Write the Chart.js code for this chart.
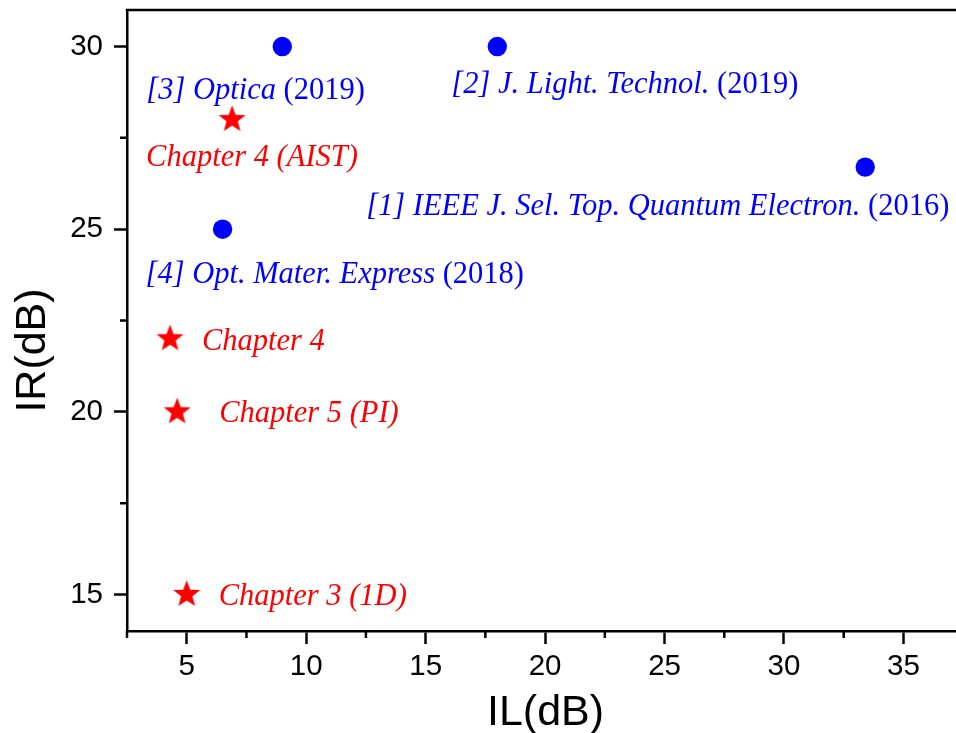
<!DOCTYPE html>
<html>
<head>
<meta charset="utf-8">
<script src="https://cdn.jsdelivr.net/npm/chart.js@4/dist/chart.umd.min.js"></script>
<style>
  html, body { margin: 0; padding: 0; background: #fff; overflow: hidden; }
  canvas { display: block; }
</style>
</head>
<body>
<canvas id="c" width="956" height="733"></canvas>
<script>
// Published devices (blue dots): insertion loss vs. isolation ratio
const refIL = [33.4, 18, 9, 6.5];
const refIR = [26.7, 30, 30, 25];
const refName = ['[1] IEEE J. Sel. Top. Quantum Electron.', '[2] J. Light. Technol.', '[3] Optica', '[4] Opt. Mater. Express'];
const refYear = ['(2016)', '(2019)', '(2019)', '(2018)'];

// Devices from this thesis (red stars)
const chapIL = [6.9, 4.3, 4.6, 5];
const chapIR = [28, 22, 20, 15];
const chapName = ['Chapter 4 (AIST)', 'Chapter 4', 'Chapter 5 (PI)', 'Chapter 3 (1D)'];

// Axis ticks
const ilTicks = [5, 10, 15, 20, 25, 30, 35];
const ilMinor = [2.5, 7.5, 12.5, 17.5, 22.5, 27.5, 32.5];
const irTicks = [15, 20, 25, 30];
const irMinor = [17.5, 22.5, 27.5];

// Label placement: pixel offset of the text start / baseline from its marker
const refLabelOffset = [[-499, 48], [-46, 46], [-136, 52], [-77, 54]];
const chapLabelOffset = [[-86, 46], [32, 11], [42, 10], [32, 11]];

const BLUE = '#0000ff';
const RED = '#ff0000';
const SANS = '"Liberation Sans", Arial, sans-serif';
const SERIF = '"Liberation Serif", "Times New Roman", serif';

function starImage(R, r, color) {
  const s = Math.ceil(2 * R + 2);
  const c = document.createElement('canvas');
  c.width = c.height = s;
  const g = c.getContext('2d');
  g.fillStyle = color;
  g.beginPath();
  for (let i = 0; i < 10; i++) {
    const a = -Math.PI / 2 + i * Math.PI / 5;
    const rad = i % 2 ? r : R;
    g.lineTo(s / 2 + rad * Math.cos(a), s / 2 + rad * Math.sin(a));
  }
  g.closePath();
  g.fill();
  return c;
}

// no extra room for half-labels at the axis ends
function noEndPadding(s) {
  s.paddingTop = 0;
  s.paddingBottom = 0;
  s.paddingLeft = 0;
  s.paddingRight = 0;
}

const decor = {
  id: 'decor',
  afterDraw(chart) {
    const { ctx, chartArea: a, scales: { x, y } } = chart;
    ctx.save();
    // top frame line
    ctx.strokeStyle = '#000';
    ctx.lineWidth = 2.5;
    ctx.beginPath();
    ctx.moveTo(a.left - 1.25, a.top);
    ctx.lineTo(a.right + 2, a.top);
    ctx.stroke();
    // minor ticks
    ctx.beginPath();
    ilMinor.forEach(v => {
      const px = x.getPixelForValue(v);
      ctx.moveTo(px, a.bottom);
      ctx.lineTo(px, a.bottom + 7);
    });
    irMinor.forEach(v => {
      const py = y.getPixelForValue(v);
      ctx.moveTo(a.left, py);
      ctx.lineTo(a.left - 7, py);
    });
    ctx.stroke();

    // axis titles
    ctx.fillStyle = '#000';
    ctx.font = '43px ' + SANS;
    ctx.textAlign = 'center';
    ctx.textBaseline = 'alphabetic';
    ctx.fillText('IL(dB)', (a.left + a.right) / 2 + 4, 725);
    ctx.save();
    ctx.translate(45, (a.top + a.bottom) / 2 + 30);
    ctx.rotate(-Math.PI / 2);
    ctx.fillText('IR(dB)', 0, 0);
    ctx.restore();

    // point labels
    ctx.textAlign = 'left';
    const italic = 'italic 30.5px ' + SERIF;
    const upright = '30.5px ' + SERIF;
    refName.forEach((name, i) => {
      const px = x.getPixelForValue(refIL[i]) + refLabelOffset[i][0];
      const py = y.getPixelForValue(refIR[i]) + refLabelOffset[i][1];
      ctx.fillStyle = BLUE;
      ctx.font = italic;
      ctx.fillText(name + ' ', px, py);
      const w = ctx.measureText(name + ' ').width;
      ctx.font = upright;
      ctx.fillText(refYear[i], px + w, py);
    });
    chapName.forEach((name, i) => {
      const px = x.getPixelForValue(chapIL[i]) + chapLabelOffset[i][0];
      const py = y.getPixelForValue(chapIR[i]) + chapLabelOffset[i][1];
      ctx.fillStyle = RED;
      ctx.font = italic;
      ctx.fillText(name, px, py);
    });
    ctx.restore();
  }
};

const tickFont = { family: SANS, size: 29.5 };

new Chart(document.getElementById('c'), {
  type: 'scatter',
  data: {
    datasets: [
      {
        label: 'Reported',
        data: refIL.map((v, i) => ({ x: v, y: refIR[i] })),
        backgroundColor: BLUE,
        borderWidth: 0,
        pointRadius: 9.7,
        pointHoverRadius: 9.7
      },
      {
        label: 'This work',
        data: chapIL.map((v, i) => ({ x: v, y: chapIR[i] })),
        pointStyle: starImage(14.2, 6, RED),
        backgroundColor: RED,
        borderWidth: 0,
        pointRadius: 14,
        pointHoverRadius: 14
      }
    ]
  },
  options: {
    responsive: false,
    animation: false,
    devicePixelRatio: 1,
    layout: { autoPadding: false, padding: { top: 10, right: 0, left: 0, bottom: 0 } },
    plugins: { legend: { display: false }, tooltip: { enabled: false } },
    events: [],
    scales: {
      x: {
        type: 'linear',
        min: 2.5,
        max: 37.2,
        afterBuildTicks: s => { s.ticks = ilTicks.map(v => ({ value: v })); },
        afterFit: s => { s.height = 102; noEndPadding(s); },
        ticks: { font: tickFont, color: '#000', padding: 5, maxRotation: 0, autoSkip: false, callback: v => String(v) },
        grid: { drawOnChartArea: false, tickLength: 13, tickWidth: 2.5, tickColor: '#000' },
        border: { display: true, color: '#000', width: 2.5 }
      },
      y: {
        type: 'linear',
        min: 14,
        max: 31,
        afterBuildTicks: s => { s.ticks = irTicks.map(v => ({ value: v })); },
        afterFit: s => { s.width = 127; noEndPadding(s); },
        ticks: { font: tickFont, color: '#000', padding: 11, autoSkip: false, callback: v => String(v) },
        grid: { drawOnChartArea: false, tickLength: 13, tickWidth: 2.5, tickColor: '#000' },
        border: { display: true, color: '#000', width: 2.5 }
      }
    }
  },
  plugins: [decor]
});
</script>
</body>
</html>
